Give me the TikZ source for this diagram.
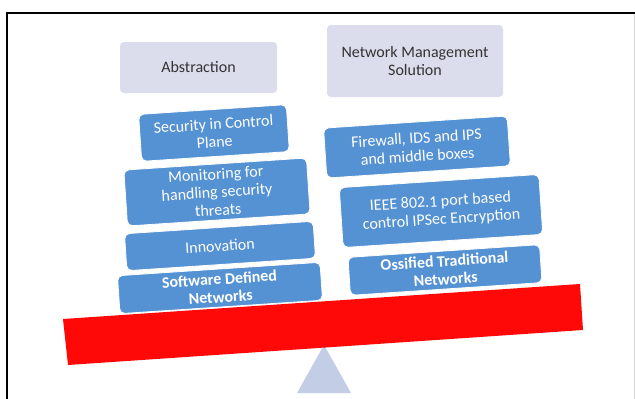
\documentclass[tikz,border=0pt]{standalone}
\usepackage{fontspec}
\setmainfont{Carlito}
\definecolor{boxblue}{RGB}{84,146,212}
\definecolor{boxgray}{RGB}{219,221,236}
\definecolor{basetri}{RGB}{196,205,230}
\definecolor{barred}{RGB}{255,8,8}
\begin{document}
\begin{tikzpicture}[x=1pt,y=-1pt,
  bluebox/.style={draw=white, line width=0.8pt, fill=boxblue, rounded corners=5pt,
    text=white, align=center, inner sep=0pt, rotate=3.8,
    font=\fontsize{16}{18}\selectfont},
  graybox/.style={fill=boxgray, rounded corners=4pt, text=black!80, align=center,
    inner sep=0pt, font=\fontsize{16}{18}\selectfont}]
\useasboundingbox (0,0) rectangle (635,399);
\fill[white] (0,0) rectangle (635,399);
% frame
\draw[line width=2pt] (7,399) -- (7,12.5) -- (635,12.5);
\draw[black!15, line width=0.8pt] (634,13.5) -- (634,399);
% top gray boxes
\node[graybox, minimum width=157pt, minimum height=51pt] (abs) at (198.5,67.5) {Abstraction};
\node[graybox, minimum width=176pt, minimum height=72pt] (nms) at (415,61) {Network Management\\Solution};
% left stack
\node[bluebox, minimum width=148pt, minimum height=47pt] (sec) at (214,133) {Security in Control\\Plane};
\node[bluebox, minimum width=183pt, minimum height=56pt] (mon) at (217,192) {Monitoring for\\handling security\\threats};
\node[bluebox, minimum width=189pt, minimum height=37pt] (inn) at (220,246) {Innovation};
\node[bluebox, minimum width=203pt, minimum height=38pt, font=\fontsize{16}{18}\selectfont\bfseries] (sdn) at (220,288) {Software Defined\\Networks};
% right stack
\node[bluebox, minimum width=184pt, minimum height=50pt] (fw) at (417,147) {Firewall, IDS and IPS\\and middle boxes};
\node[bluebox, minimum width=200pt, minimum height=60pt] (ieee) at (441,211) {IEEE 802.1 port based\\control IPSec Encryption};
\node[bluebox, minimum width=192pt, minimum height=38pt, font=\fontsize{16}{18}\selectfont\bfseries] (otn) at (445,270) {Ossified Traditional\\Networks};
% fulcrum and beam
\fill[basetri] (324,345) -- (351,393) -- (297,393) -- cycle;
\fill[barred] (63,319) -- (580,284) -- (583,330) -- (68,365) -- cycle;
\end{tikzpicture}
\end{document}
